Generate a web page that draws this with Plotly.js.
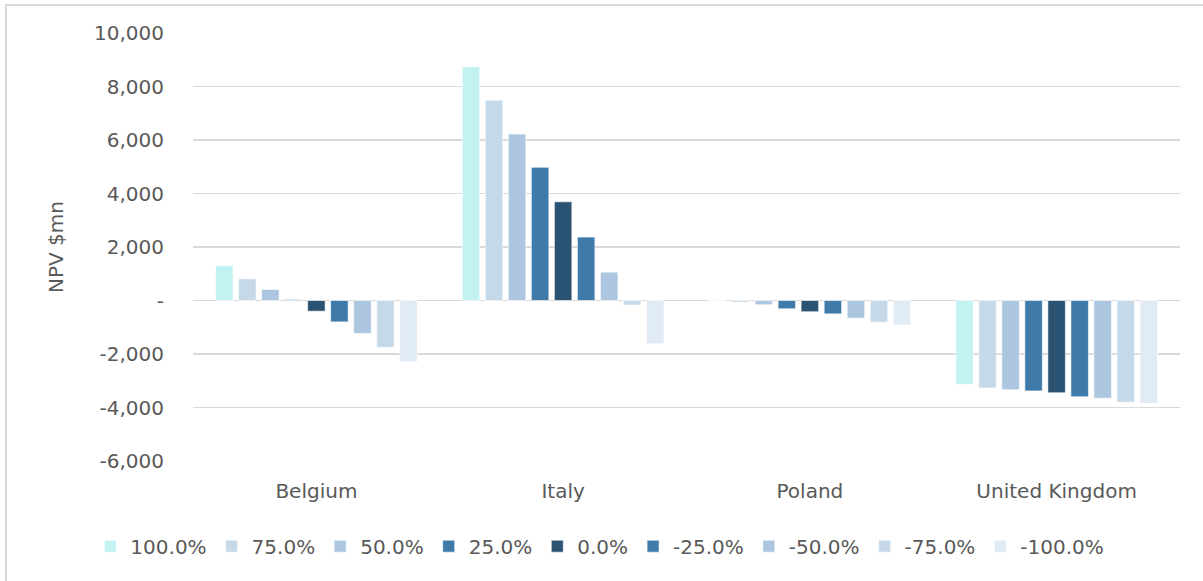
<!DOCTYPE html>
<html>
<head>
<meta charset="utf-8">
<script src="https://cdn.plot.ly/plotly-3.0.1.min.js"></script>
<style>
  html, body { margin: 0; padding: 0; background: #ffffff; overflow: hidden; }
  #chart { position: absolute; left: 0; top: 0; width: 1203px; height: 581px; }
  #frame { position: absolute; left: 5px; top: 4px; width: 1220px; height: 600px;
           border: 2px solid #d9d9d9; pointer-events: none; }
</style>
</head>
<body>
<div id="chart"></div>
<div id="frame"></div>
<script>
// Countries on the category axis
const countries = ["Belgium", "Italy", "Poland", "United Kingdom"];

// Scenario labels (price change) shown in the legend
const scenarios = ["100.0%", "75.0%", "50.0%", "25.0%", "0.0%", "-25.0%", "-50.0%", "-75.0%", "-100.0%"];

// NPV in $mn per scenario, ordered as countries
const npv100  = [1300, 8740, 5, -3140];
const npv75   = [810, 7490, -60, -3270];
const npv50   = [410, 6220, -160, -3340];
const npv25   = [30, 4980, -310, -3380];
const npv0    = [-400, 3690, -420, -3450];
const npvM25  = [-800, 2370, -500, -3600];
const npvM50  = [-1230, 1060, -660, -3650];
const npvM75  = [-1750, -170, -810, -3800];
const npvM100 = [-2290, -1620, -920, -3850];

// Y axis ticks
const yTickVals = [-6000, -4000, -2000, 0, 2000, 4000, 6000, 8000, 10000];
const yTickText = ["-6,000", "-4,000", "-2,000", "-", "2,000", "4,000", "6,000", "8,000", "10,000"];

const seriesValues = [npv100, npv75, npv50, npv25, npv0, npvM25, npvM50, npvM75, npvM100];
const seriesColors = ["#c2f2f2", "#c6d9e8", "#abc6de", "#3f7aa9", "#2a5272",
                      "#3f7aa9", "#abc6de", "#c6d9e8", "#e1ebf5"];

const textColor = "#595959";
const fontFamily = "'DejaVu Sans', sans-serif";
const fontSize = 20;

const traces = scenarios.map((name, i) => ({
  type: "bar",
  name: name,
  x: countries,
  y: seriesValues[i],
  marker: { color: seriesColors[i], line: { color: "rgba(255,255,255,0.6)", width: 1 } },
  hoverinfo: "x+y+name"
}));

const layout = {
  width: 1203,
  height: 581,
  margin: { l: 193, r: 23, t: 33, b: 120 },
  paper_bgcolor: "#ffffff",
  plot_bgcolor: "#ffffff",
  barmode: "group",
  bargap: 0.16,
  bargroupgap: 0.24,
  font: { family: fontFamily, size: fontSize, color: textColor },
  showlegend: true,
  legend: {
    orientation: "h",
    x: -0.104, xanchor: "left",
    y: -0.199, yanchor: "middle",
    itemgap: 7,
    font: { family: fontFamily, size: fontSize, color: textColor },
    itemclick: false, itemdoubleclick: false
  },
  xaxis: {
    type: "category",
    showgrid: false,
    showline: false,
    zeroline: false,
    ticks: "",
    ticklabelstandoff: 16,
    tickfont: { family: fontFamily, size: fontSize, color: textColor }
  },
  yaxis: {
    range: [-6000, 10000],
    tickvals: yTickVals,
    ticktext: yTickText,
    showgrid: true,
    gridcolor: "#d9d9d9",
    gridwidth: 1.3,
    zeroline: true,
    zerolinecolor: "#d9d9d9",
    zerolinewidth: 1.3,
    showline: false,
    ticks: "",
    ticklabelstandoff: 28,
    tickfont: { family: fontFamily, size: fontSize, color: textColor },
    title: { text: "NPV $mn", font: { family: fontFamily, size: fontSize, color: textColor }, standoff: 25 }
  }
};

Plotly.newPlot("chart", traces, layout, { displayModeBar: false, staticPlot: true });
</script>
</body>
</html>
